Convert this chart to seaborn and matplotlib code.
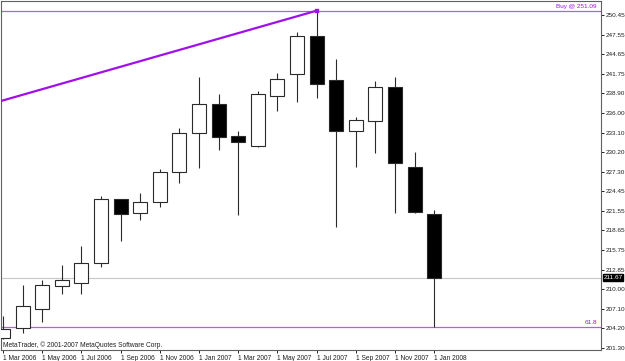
import matplotlib
matplotlib.use("Agg")
import matplotlib.pyplot as plt
import matplotlib.transforms as mtransforms
import numpy as np
import pandas as pd
import seaborn as sns

# ---- data (monthly OHLC) ----
months = ["Mar 2006", "Apr 2006", "May 2006", "Jun 2006", "Jul 2006", "Aug 2006",
          "Sep 2006", "Oct 2006", "Nov 2006", "Dec 2006", "Jan 2007", "Feb 2007",
          "Mar 2007", "Apr 2007", "May 2007", "Jun 2007", "Jul 2007", "Aug 2007",
          "Sep 2007", "Oct 2007", "Nov 2007", "Dec 2007", "Jan 2008"]
opens  = [202.77, 204.30, 207.01, 210.41, 210.94, 213.80, 223.29, 221.18, 222.80, 227.23,
          233.08, 237.27, 232.59, 231.16, 238.54, 241.70, 247.35, 240.81, 233.33, 234.76,
          239.78, 228.01, 221.08]
highs  = [206.07, 210.60, 211.34, 213.55, 216.35, 223.73, 223.35, 224.22, 227.72, 233.73,
          241.34, 238.79, 233.33, 239.28, 241.84, 247.90, 251.09, 243.96, 235.35, 240.71,
          241.25, 230.18, 221.67]
lows   = [202.60, 203.51, 205.09, 209.27, 209.27, 213.30, 217.09, 220.19, 222.07, 225.61,
          227.91, 230.52, 220.93, 231.01, 236.32, 237.56, 238.15, 219.11, 227.97, 230.13,
          221.18, 221.20, 204.35]
closes = [204.10, 207.54, 210.55, 211.34, 213.89, 223.25, 221.03, 222.80, 227.32, 232.99,
          237.27, 232.49, 231.66, 238.75, 240.96, 247.35, 240.22, 233.33, 234.91, 239.78,
          228.56, 221.33, 211.67]

yticks = [250.45, 247.55, 244.65, 241.75, 238.90, 236.00, 233.10, 230.20, 227.30,
          224.45, 221.55, 218.65, 215.75, 212.85, 210.00, 207.10, 204.20, 201.30]
xtick_idx = [0, 2, 4, 6, 8, 10, 12, 14, 16, 18, 20, 22]
xtick_labels = ["1 Mar 2006", "1 May 2006", "1 Jul 2006", "1 Sep 2006", "1 Nov 2006",
                "1 Jan 2007", "1 Mar 2007", "1 May 2007", "1 Jul 2007", "1 Sep 2007",
                "1 Nov 2007", "1 Jan 2008"]

trend_x = [-2, 16]
trend_y = [236.19, 251.09]
buy_price = 251.09
fib_level = 204.35
last_price = 211.67

df = pd.DataFrame({"month": months, "open": opens, "high": highs,
                   "low": lows, "close": closes})
df["idx"] = np.arange(len(df))

# ---- style ----
sns.set_style("white")
plt.rcParams["font.family"] = ["Liberation Sans", "DejaVu Sans"]
FS = 4.6
FSX = 4.8

fig = plt.figure(figsize=(6.25, 3.61), dpi=100)
fig.patch.set_facecolor("white")
ax = fig.add_axes([1 / 625, 11 / 361, 600 / 625, 349 / 361])
ax.set_facecolor("white")

purple = "#A010E8"
purple_light = "#B060E0"
edge = "#2a2a2a"

# last price line
ax.axhline(last_price, color="#C8C8C8", lw=0.8, zorder=1)
# fib level
ax.axhline(fib_level, color=purple_light, lw=0.9, zorder=2)
# buy level
ax.axhline(buy_price, color=purple_light, lw=0.9, zorder=2)

# wicks
ax.vlines(df["idx"], df["low"], df["high"], color=edge, lw=0.8, zorder=3)

# bodies
bull = df["close"] >= df["open"]
bottoms = np.minimum(df["open"], df["close"])
heights = np.maximum(np.abs(df["close"] - df["open"]), 0.12)
ax.bar(df["idx"][bull], heights[bull], bottom=bottoms[bull], width=0.72,
       color="white", edgecolor=edge, linewidth=0.8, zorder=4)
ax.bar(df["idx"][~bull], heights[~bull], bottom=bottoms[~bull], width=0.72,
       color="black", edgecolor=edge, linewidth=0.8, zorder=4)

# trendline (seaborn)
tdf = pd.DataFrame({"x": trend_x, "y": trend_y})
sns.lineplot(data=tdf, x="x", y="y", ax=ax, color=purple, lw=1.6, zorder=5)
sns.scatterplot(x=[trend_x[-1]], y=[trend_y[-1]], ax=ax, marker="s", s=10,
                color=purple, edgecolor=purple, zorder=6)

ax.set_xlim(-0.102, 30.51)
ax.set_ylim(201.0, 252.52)
ax.set_xlabel("")
ax.set_ylabel("")

# axes / ticks
for s in ax.spines.values():
    s.set_color("#606060")
    s.set_linewidth(0.8)

ax.yaxis.tick_right()
ax.set_yticks(yticks)
ax.set_yticklabels([f"{v:.2f}" for v in yticks])
ax.tick_params(axis="y", direction="out", length=2.5, width=0.7, pad=1,
               labelsize=FS, colors="#202020", right=True, left=False)

ax.set_xticks(xtick_idx)
ax.set_xticklabels(xtick_labels)
for lab in ax.get_xticklabels():
    lab.set_horizontalalignment("left")
ax.tick_params(axis="x", direction="out", length=2.5, width=0.7, pad=1,
               labelsize=FSX, colors="#202020", bottom=True)

blend = mtransforms.blended_transform_factory(ax.transAxes, ax.transData)
# texts
ax.text(0.993, buy_price + 0.3, "Buy @ 251.09", transform=blend,
        ha="right", va="bottom", fontsize=FS, color=purple)
ax.text(0.993, fib_level + 0.3, "61.8", transform=blend,
        ha="right", va="bottom", fontsize=FS, color=purple)
ax.text(1.004, last_price, f"{last_price:.2f}", transform=blend,
        ha="left", va="center", fontsize=FS, color="white", zorder=10, clip_on=False,
        bbox=dict(boxstyle="square,pad=0.12", fc="black", ec="black"))
fig.text(3 / 625, 1 - 345 / 361, "MetaTrader, \u00a9 2001-2007 MetaQuotes Software Corp.",
         ha="left", va="center", fontsize=FSX, color="#202020")

fig.savefig("out.png", dpi=100, facecolor="white")
